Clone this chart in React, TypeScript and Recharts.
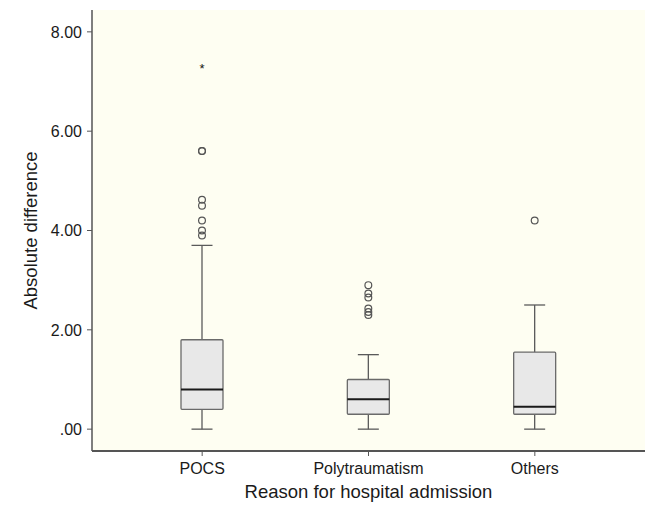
import { ComposedChart, Bar, XAxis, YAxis, CartesianGrid, Label } from "recharts";

const categories = ["POCS", "Polytraumatism", "Others"];
const mins = [0, 0, 0];
const q1s = [0.4, 0.3, 0.3];
const medians = [0.8, 0.6, 0.45];
const q3s = [1.8, 1.0, 1.55];
const maxs = [3.7, 1.5, 2.5];
const outliers = [
  [3.9, 4.0, 4.2, 4.5, 4.62, 5.6, 5.6],
  [2.3, 2.36, 2.43, 2.65, 2.73, 2.9],
  [4.2],
];
const extremes = [[7.3], [], []];
const yTicks = [0, 2, 4, 6, 8];

const FONT = "'Liberation Sans', Arial, sans-serif";

const data = categories.map((name, i) => ({
  name,
  range: [mins[i], maxs[i]],
  min: mins[i],
  q1: q1s[i],
  median: medians[i],
  q3: q3s[i],
  max: maxs[i],
  outliers: outliers[i],
  extremes: extremes[i],
}));

// draws the whole box plot from the pixel span the bar gets for [min, max]
const BoxShape = (props: any) => {
  const { x, y, width, height, payload } = props;
  const top = height < 0 ? y + height : y;
  const h = Math.abs(height);
  const ppu = h / (payload.max - payload.min);
  const py = (v: number) => top + (payload.max - v) * ppu;
  const cx = x + width / 2;
  const cap = 10.5;
  return (
    <g>
      <line x1={cx} x2={cx} y1={py(payload.max)} y2={py(payload.q3)} stroke="#5a5a5a" strokeWidth={1.3} />
      <line x1={cx} x2={cx} y1={py(payload.q1)} y2={py(payload.min)} stroke="#5a5a5a" strokeWidth={1.3} />
      <line x1={cx - cap} x2={cx + cap} y1={py(payload.max)} y2={py(payload.max)} stroke="#5a5a5a" strokeWidth={1.3} />
      <line x1={cx - cap} x2={cx + cap} y1={py(payload.min)} y2={py(payload.min)} stroke="#5a5a5a" strokeWidth={1.3} />
      <rect
        x={x}
        y={py(payload.q3)}
        width={width}
        height={py(payload.q1) - py(payload.q3)}
        fill="#e8e8e8"
        stroke="#6a6a6a"
        strokeWidth={1.3}
        rx={1}
      />
      <line x1={x} x2={x + width} y1={py(payload.median)} y2={py(payload.median)} stroke="#1a1a1a" strokeWidth={2} />
      {payload.outliers.map((v: number, k: number) => (
        <circle key={k} cx={cx} cy={py(v)} r={3.4} fill="none" stroke="#555" strokeWidth={1.2} />
      ))}
      {payload.extremes.map((v: number, k: number) => (
        <text key={k} x={cx} y={py(v) + 6} textAnchor="middle" fontSize={13} fontFamily={FONT} fill="#111">
          *
        </text>
      ))}
    </g>
  );
};

export default function App() {
  return (
    <div style={{ position: "absolute", left: 0, top: 0, background: "#fff" }}>
      <ComposedChart
        width={650}
        height={506}
        data={data}
        margin={{ top: 10, right: 5, bottom: 25, left: 0 }}
        style={{ fontFamily: FONT }}
      >
        <CartesianGrid horizontal={false} vertical={false} fill="#fefef2" />
        <XAxis
          dataKey="name"
          padding={{ left: 27, right: 27 }}
          height={30}
          tickSize={5}
          tickMargin={7}
          tick={{ fontSize: 16, fill: "#1a1a1a", fontFamily: FONT }}
          tickLine={{ stroke: "#555" }}
          axisLine={{ stroke: "#555", strokeWidth: 2 }}
        >
          <Label
            value="Reason for hospital admission"
            position="bottom"
            offset={4}
            style={{ fontSize: 18.5, fill: "#1a1a1a", fontFamily: FONT }}
          />
        </XAxis>
        <XAxis xAxisId="top" orientation="top" height={0} tick={false} tickLine={false} axisLine={{ stroke: "#333", strokeWidth: 1.5 }} />
        <YAxis
          domain={[-0.44, 8.44]}
          ticks={yTicks}
          tickFormatter={(v: number) => (v === 0 ? ".00" : v.toFixed(2))}
          width={92}
          tickSize={5}
          tickMargin={5}
          tick={{ fontSize: 16, fill: "#1a1a1a", fontFamily: FONT }}
          tickLine={{ stroke: "#555" }}
          axisLine={{ stroke: "#555", strokeWidth: 1.5 }}
          allowDataOverflow
        >
          <Label
            value="Absolute difference"
            angle={-90}
            position="insideLeft"
            offset={30}
            style={{ fontSize: 18.5, fill: "#1a1a1a", fontFamily: FONT, textAnchor: "middle" }}
          />
        </YAxis>
        <YAxis yAxisId="right" orientation="right" width={0} tick={false} tickLine={false} axisLine={{ stroke: "#aaa", strokeWidth: 1.5 }} />
        <Bar dataKey="range" barSize={42} shape={<BoxShape />} isAnimationActive={false} />
      </ComposedChart>
    </div>
  );
}
